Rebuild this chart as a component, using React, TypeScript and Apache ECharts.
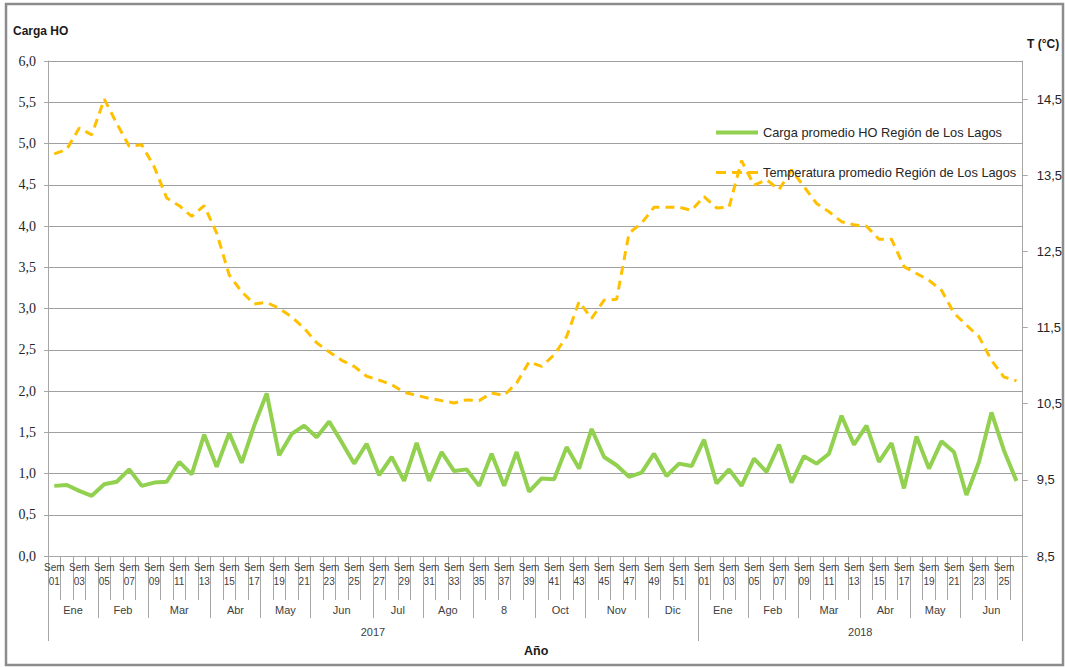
import React, { useEffect, useRef } from 'react';
import * as echarts from 'echarts';

// ---------- Data ----------
const years = ['2017', '2018'];
const yearWeeks = [52, 26];
const months = ['Ene', 'Feb', 'Mar', 'Abr', 'May', 'Jun', 'Jul', 'Ago', '8', 'Oct', 'Nov', 'Dic', 'Ene', 'Feb', 'Mar', 'Abr', 'May', 'Jun'];
const monthWeeks = [4, 4, 5, 4, 4, 5, 4, 4, 5, 4, 5, 4, 4, 4, 5, 4, 4, 5];

const weekCategories: string[] = [];
yearWeeks.forEach((n) => {
  for (let w = 1; w <= n; w++) weekCategories.push('Sem\n' + String(w).padStart(2, '0'));
});

const cargaHO = [
  0.85, 0.86, 0.79, 0.73, 0.87, 0.90, 1.05, 0.85, 0.89, 0.90,
  1.14, 0.99, 1.47, 1.08, 1.49, 1.13, 1.58, 1.97, 1.22, 1.48,
  1.58, 1.44, 1.63, 1.38, 1.12, 1.36, 0.98, 1.20, 0.91, 1.37,
  0.91, 1.26, 1.03, 1.05, 0.85, 1.24, 0.85, 1.26, 0.78, 0.94,
  0.93, 1.32, 1.06, 1.54, 1.20, 1.10, 0.96, 1.01, 1.24, 0.97,
  1.12, 1.09, 1.41, 0.88, 1.05, 0.85, 1.18, 1.02, 1.35, 0.89,
  1.21, 1.12, 1.24, 1.70, 1.35, 1.58, 1.14, 1.37, 0.82, 1.45,
  1.06, 1.39, 1.26, 0.74, 1.14, 1.74, 1.28, 0.91,
];

const temperatura = [
  13.78, 13.84, 14.12, 14.03, 14.50, 14.18, 13.88, 13.90, 13.61, 13.20,
  13.10, 12.96, 13.10, 12.74, 12.19, 11.97, 11.81, 11.83, 11.75, 11.64,
  11.49, 11.30, 11.18, 11.07, 10.99, 10.86, 10.81, 10.75, 10.65, 10.61,
  10.57, 10.54, 10.51, 10.55, 10.54, 10.64, 10.61, 10.77, 11.05, 10.99,
  11.14, 11.38, 11.84, 11.62, 11.86, 11.87, 12.74, 12.87, 13.08, 13.08,
  13.08, 13.04, 13.22, 13.07, 13.08, 13.69, 13.37, 13.44, 13.31, 13.57,
  13.35, 13.13, 13.02, 12.89, 12.85, 12.83, 12.66, 12.66, 12.30, 12.21,
  12.12, 11.99, 11.69, 11.53, 11.38, 11.07, 10.85, 10.80,
];

const N = weekCategories.length;

// group axis on half-week positions (0..2N)
function buildGroupAxis(names: string[], spans: number[]) {
  const data: string[] = new Array(2 * N + 1).fill('');
  const ticks = new Set<number>();
  let start = 0;
  ticks.add(0);
  names.forEach((name, k) => {
    const w = spans[k];
    data[2 * start + w] = name;
    start += w;
    ticks.add(2 * start);
  });
  return { data, ticks };
}

const monthAxis = buildGroupAxis(months, monthWeeks);
const yearAxis = buildGroupAxis(years, yearWeeks);

const SANS = "'Liberation Sans', Arial, sans-serif";
const NARROW = "'Liberation Sans Narrow', 'Liberation Sans', Arial, sans-serif";
const AXIS_GRAY = '#A6A6A6';
const TEXT = '#262626';
const GREEN = '#92D050';
const GOLD = '#FFC000';
const NAME_CARGA = 'Carga promedio HO Región de Los Lagos';
const NAME_TEMP = 'Temperatura promedio Región de Los Lagos';

const fmt = (v: number) => v.toFixed(1).replace('.', ',');

export default function App() {
  const ref = useRef<HTMLDivElement>(null);

  useEffect(() => {
    if (!ref.current) return;
    const chart = echarts.init(ref.current, undefined, { renderer: 'svg' });
    const option: any = {
      animation: false,
      backgroundColor: '#ffffff',
      grid: { left: 48, right: 42, top: 61, bottom: 111, containLabel: false },
      legend: {
        orient: 'vertical',
        left: 711,
        top: 121,
        itemWidth: 42,
        itemHeight: 4,
        itemGap: 27,
        textStyle: { fontFamily: SANS, fontSize: 12.8, color: TEXT },
        data: [
          { name: NAME_CARGA, icon: 'path://M0,0H42V4H0Z' },
          { name: NAME_TEMP, icon: 'path://M0,0H10V3H0Z M16,0H26V3H16Z M32,0H42V3H32Z' },
        ],
      },
      xAxis: [
        {
          type: 'category',
          data: weekCategories,
          boundaryGap: true,
          axisLine: { show: true, lineStyle: { color: AXIS_GRAY } },
          axisTick: { show: true, interval: 0, length: 44, lineStyle: { color: AXIS_GRAY } },
          axisLabel: { interval: 1, margin: 4, fontSize: 10, lineHeight: 14, color: '#404040', fontFamily: NARROW },
          splitLine: { show: false },
        },
        {
          type: 'category',
          data: monthAxis.data,
          boundaryGap: false,
          position: 'bottom',
          axisLine: { show: false },
          axisTick: { show: true, interval: (i: number) => monthAxis.ticks.has(i), length: 62, lineStyle: { color: AXIS_GRAY } },
          axisLabel: { interval: (_i: number, v: string) => v !== '', margin: 48, fontSize: 11, color: '#404040', fontFamily: SANS },
          splitLine: { show: false },
        },
        {
          type: 'category',
          data: yearAxis.data,
          boundaryGap: false,
          position: 'bottom',
          axisLine: { show: false },
          axisTick: { show: true, interval: (i: number) => yearAxis.ticks.has(i), length: 85, lineStyle: { color: AXIS_GRAY } },
          axisLabel: { interval: (_i: number, v: string) => v !== '', margin: 70, fontSize: 11, color: '#404040', fontFamily: SANS },
          splitLine: { show: false },
        },
      ],
      yAxis: [
        {
          type: 'value',
          min: 0,
          max: 6,
          interval: 0.5,
          axisLine: { show: true, lineStyle: { color: AXIS_GRAY } },
          axisTick: { show: true, length: 4, lineStyle: { color: AXIS_GRAY } },
          axisLabel: { formatter: fmt, margin: 12, fontFamily: "'Liberation Serif', serif", fontSize: 14, color: TEXT },
          splitLine: { show: true, lineStyle: { color: '#A0A0A0', width: 1 } },
        },
        {
          type: 'value',
          position: 'right',
          min: 8.5,
          max: 15,
          interval: 1,
          axisLine: { show: true, lineStyle: { color: AXIS_GRAY } },
          axisTick: { show: true, length: 5, lineStyle: { color: AXIS_GRAY } },
          axisLabel: {
            formatter: (v: number) => (v >= 14.99 ? '' : fmt(v)),
            showMaxLabel: false,
            margin: 14,
            fontFamily: SANS,
            fontSize: 13,
            color: TEXT,
          },
          splitLine: { show: false },
        },
      ],
      series: [
        {
          name: NAME_CARGA,
          type: 'line',
          xAxisIndex: 0,
          yAxisIndex: 0,
          data: cargaHO,
          symbol: 'none',
          lineStyle: { color: GREEN, width: 4 },
          itemStyle: { color: GREEN },
          z: 2,
        },
        {
          name: NAME_TEMP,
          type: 'line',
          xAxisIndex: 0,
          yAxisIndex: 1,
          data: temperatura,
          symbol: 'none',
          lineStyle: { color: GOLD, width: 3, type: [9, 6] },
          itemStyle: { color: GOLD },
          z: 3,
        },
      ],
      graphic: [
        {
          type: 'rect',
          shape: { x: 6, y: 4, width: 1057, height: 661 },
          style: { fill: 'none', stroke: '#8C8C8C', lineWidth: 2.5 },
          silent: true,
        },
        {
          type: 'text',
          left: 13,
          top: 25,
          style: { text: 'Carga HO', fontFamily: SANS, fontSize: 12, fontWeight: 'bold', fill: '#1a1a1a' },
        },
        {
          type: 'text',
          left: 1027,
          top: 38,
          style: { text: 'T (°C)', fontFamily: SANS, fontSize: 12, fontWeight: 'bold', fill: '#1a1a1a' },
        },
        {
          type: 'text',
          left: 524,
          top: 644,
          style: { text: 'Año', fontFamily: SANS, fontSize: 12.5, fontWeight: 'bold', fill: '#1a1a1a' },
        },
      ],
    };
    chart.setOption(option);
    return () => chart.dispose();
  }, []);

  return (
    <div
      ref={ref}
      style={{ position: 'fixed', left: 0, top: 0, width: 1065, height: 667, background: '#fff' }}
    />
  );
}
